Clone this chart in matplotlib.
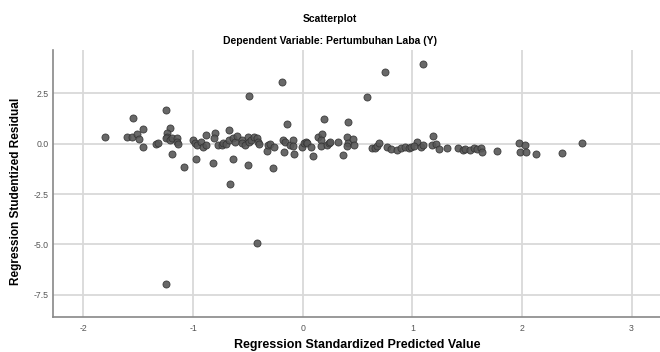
import matplotlib
matplotlib.use('Agg')
import matplotlib.pyplot as plt

# standardized predicted value (x) and studentized residual (y)
pred = [
    -1.80, -1.60, -1.56, -1.55, -1.51, -1.49, -1.46, -1.46, -1.34, -1.32,
    -1.25, -1.21, -1.24, -1.24, -1.25, -1.21, -1.19, -1.15, -1.15, -1.14,
    -1.19, -1.08, -1.00, -0.98, -0.97, -0.96, -0.93, -0.91, -0.88, -0.88,
    -0.80, -0.81, -0.82, -0.77, -0.74, -0.73, -0.70, -0.67, -0.67, -0.64,
    -0.62, -0.60, -0.64, -0.66, -0.55, -0.55, -0.53, -0.50, -0.49, -0.47,
    -0.50, -0.49, -0.44, -0.42, -0.41, -0.40, -0.33, -0.32, -0.30, -0.26,
    -0.27, -0.18, -0.16, -0.17, -0.12, -0.09, -0.08, -0.14, -0.19, -0.09,
    -0.01, 0.01, 0.03, 0.04, 0.08, 0.09, 0.14, 0.18, 0.17, 0.17,
    0.22, 0.24, 0.25, 0.32, 0.19, 0.40, 0.41, 0.40, 0.46, 0.47,
    0.41, 0.37, 0.59, 0.63, 0.66, 0.68, 0.70, 0.77, 0.81, 0.86,
    0.90, 0.93, 0.97, 0.99, 1.04, 1.02, 1.08, 1.10, 0.75, 1.10,
    1.19, 1.18, 1.22, 1.24, 1.32, 1.42, 1.46, 1.48, 1.53, 1.56,
    1.59, 1.63, 1.64, 1.77, 1.97, 2.03, 1.98, 2.04, 2.13, 2.37,
    2.55, -0.42, -1.25,
]
resid = [
    0.34, 0.31, 0.31, 1.28, 0.46, 0.21, 0.73, -0.19, -0.02, 0.04,
    1.66, 0.75, 0.50, 0.34, 0.26, 0.17, 0.26, 0.26, 0.09, -0.04,
    -0.53, -1.15, 0.17, 0.01, -0.77, -0.07, 0.09, -0.16, -0.07, 0.42,
    0.50, 0.29, -0.97, -0.07, -0.07, 0.01, -0.04, 0.67, 0.17, 0.26,
    0.09, 0.39, -0.77, -1.99, 0.17, 0.01, -0.07, 0.34, 0.09, 0.17,
    -1.06, 2.35, 0.34, 0.26, 0.09, -0.04, -0.37, -0.07, -0.04, -0.19,
    -1.20, 0.17, 0.09, -0.41, -0.07, 0.17, -0.53, 0.97, 3.03, -0.11,
    -0.16, 0.01, 0.06, 0.01, -0.16, -0.60, 0.34, 0.46, 0.17, -0.11,
    -0.07, 0.01, 0.06, 0.09, 1.21, 0.34, 0.01, -0.11, 0.22, -0.07,
    1.08, -0.57, 2.32, -0.21, -0.21, -0.11, 0.04, -0.17, -0.27, -0.32,
    -0.21, -0.16, -0.21, -0.16, 0.09, -0.11, -0.16, -0.07, 3.52, 3.94,
    0.39, -0.07, -0.04, -0.29, -0.21, -0.21, -0.32, -0.27, -0.32, -0.24,
    -0.27, -0.21, -0.41, -0.35, 0.01, -0.07, -0.41, -0.41, -0.50, -0.46,
    0.01, -4.94, -6.97,
]

x_ticks = [-2, -1, 0, 1, 2, 3]
y_ticks = [-7.5, -5.0, -2.5, 0.0, 2.5]

plt.rcParams['font.family'] = ['Liberation Sans', 'DejaVu Sans']

fig = plt.figure(figsize=(6.6, 3.52), dpi=100)
ax = fig.add_axes([0.080, 0.0994, 0.92, 0.7586])

ax.scatter(pred, resid, s=26, c='#585858', edgecolors='#333333',
           linewidths=0.6, alpha=0.9, zorder=3)

ax.set_xlim(-2.28, 3.26)
ax.set_ylim(-8.59, 4.63)
ax.set_xticks(x_ticks)
ax.set_xticklabels([str(t) for t in x_ticks])
ax.set_yticks(y_ticks)
ax.set_yticklabels([f'{t:.1f}' for t in y_ticks])
ax.grid(True, color='#d9d9d9', linewidth=1.3, zorder=0)
ax.set_axisbelow(True)
ax.tick_params(length=0, labelsize=6.3, colors='#555555', pad=5)
ax.tick_params(axis='y', pad=3)

for side in ['top', 'right']:
    ax.spines[side].set_visible(False)
for side in ['left', 'bottom']:
    ax.spines[side].set_color('#888888')
    ax.spines[side].set_linewidth(1.2)

fig.text(0.542, 0.02, 'Regression Standardized Predicted Value', ha='center',
         va='center', fontsize=9, fontweight='bold')
fig.text(0.025, 0.455, 'Regression Studentized Residual', ha='center',
         va='center', rotation=90, fontsize=8.5, fontweight='bold')

fig.text(0.5, 0.946, 'Scatterplot', ha='center', va='center',
         fontsize=7.5, fontweight='bold')
fig.text(0.5, 0.884, 'Dependent Variable: Pertumbuhan Laba (Y)', ha='center',
         va='center', fontsize=7.5, fontweight='bold')

fig.savefig('out.png', dpi=100)
